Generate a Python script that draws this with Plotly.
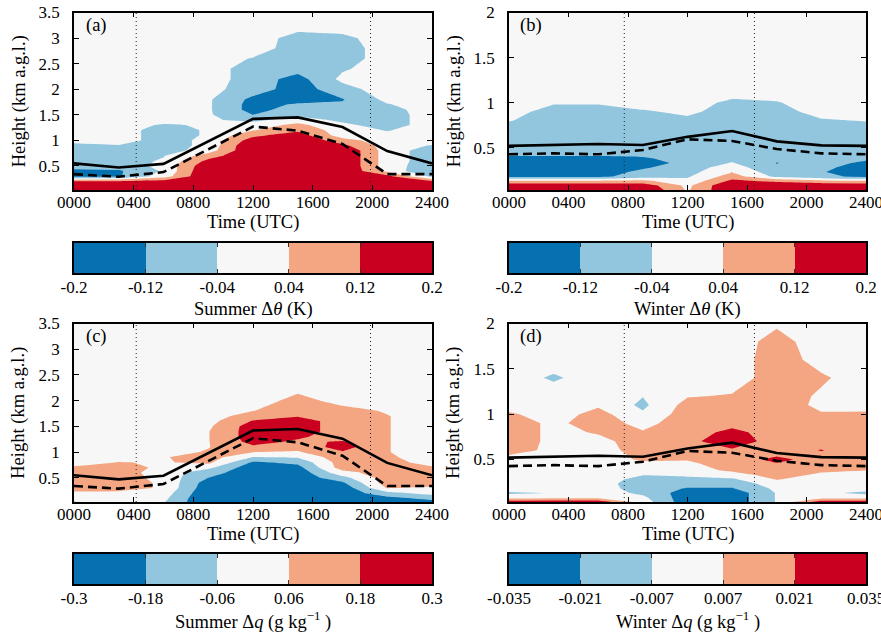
import plotly.graph_objects as go

W, H = 881, 637

# ---------------- data ----------------
TIMES = [0, 3, 6, 9, 12, 15, 18, 21, 24]          # hours UTC
HEIGHTS_SUMMER = [0.03, 0.1, 0.2, 0.3, 0.4, 0.5, 0.6, 0.7, 0.8, 0.9, 1.0, 1.1, 1.2, 1.3,
                  1.4, 1.5, 1.6, 1.7, 1.8, 2.0, 2.2, 2.4, 2.6, 2.8, 3.0, 3.2, 3.5]
HEIGHTS_WINTER = [0.03, 0.08, 0.13, 0.18, 0.23, 0.28, 0.33, 0.38, 0.45, 0.5, 0.6, 0.7,
                  0.8, 0.9, 1.0, 1.1, 1.2, 1.4, 1.6, 1.8, 2.0]

# (a) Summer delta theta (K), rows = heights, cols = times
DTHETA_SUMMER = [
    [0.20, 0.20, 0.20, 0.20, 0.20, 0.20, 0.20, 0.20, 0.20],
    [0.17, 0.17, 0.18, 0.20, 0.20, 0.20, 0.20, 0.20, 0.18],
    [0.125, 0.125, 0.15, 0.20, 0.20, 0.20, 0.20, 0.18, 0.13],
    [-0.15, -0.13, 0.0, 0.20, 0.20, 0.20, 0.20, 0.14, -0.06],
    [-0.14, -0.13, -0.03, 0.20, 0.20, 0.20, 0.20, 0.02, -0.125],
    [-0.08, -0.08, -0.02, 0.18, 0.20, 0.20, 0.20, 0.0, -0.09],
    [-0.08, -0.08, -0.03, 0.14, 0.20, 0.20, 0.20, 0.0, -0.08],
    [-0.08, -0.08, -0.045, 0.08, 0.20, 0.20, 0.20, 0.0, -0.08],
    [-0.08, -0.08, -0.08, 0.0, 0.20, 0.20, 0.20, 0.0, -0.08],
    [-0.07, -0.045, -0.08, -0.017, 0.20, 0.20, 0.14, 0.0, -0.045],
    [0.0, 0.0, -0.08, -0.017, 0.16, 0.20, 0.07, 0.0, 0.0],
    [0.0, 0.0, -0.08, -0.03, 0.10, 0.16, 0.0, -0.02, 0.0],
    [0.0, 0.0, -0.08, -0.03, 0.035, 0.10, 0.0, -0.045, 0.0],
    [0.0, 0.0, -0.05, -0.03, 0.0, 0.06, -0.02, -0.08, 0.0],
    [0.0, 0.0, 0.0, -0.03, -0.06, 0.0, -0.06, -0.08, 0.0],
    [0.0, 0.0, 0.0, -0.03, -0.12, -0.06, -0.08, -0.08, 0.0],
    [0.0, 0.0, 0.0, -0.03, -0.15, -0.08, -0.09, -0.07, 0.0],
    [0.0, 0.0, 0.0, -0.03, -0.15, -0.11, -0.11, -0.045, 0.0],
    [0.0, 0.0, 0.0, -0.03, -0.14, -0.15, -0.125, -0.02, 0.0],
    [0.0, 0.0, 0.0, -0.015, -0.08, -0.16, -0.07, 0.0, 0.0],
    [0.0, 0.0, 0.0, 0.0, -0.08, -0.15, -0.02, 0.0, 0.0],
    [0.0, 0.0, 0.0, 0.0, -0.08, -0.09, -0.05, 0.0, 0.0],
    [0.0, 0.0, 0.0, 0.0, -0.045, -0.08, -0.08, 0.0, 0.0],
    [0.0, 0.0, 0.0, 0.0, 0.0, -0.08, -0.08, 0.0, 0.0],
    [0.0, 0.0, 0.0, 0.0, 0.0, -0.07, -0.06, 0.0, 0.0],
    [0.0, 0.0, 0.0, 0.0, 0.0, -0.02, -0.01, 0.0, 0.0],
    [0.0, 0.0, 0.0, 0.0, 0.0, 0.0, 0.0, 0.0, 0.0],
]

# (b) Winter delta theta (K)
DTHETA_WINTER = [
    [0.20, 0.20, 0.20, 0.20, 0.03, 0.20, 0.20, 0.20, 0.20],
    [0.18, 0.18, 0.18, 0.17, 0.02, 0.20, 0.18, 0.18, 0.18],
    [0.05, 0.05, 0.05, 0.06, -0.02, 0.14, 0.10, 0.06, 0.05],
    [-0.14, -0.14, -0.14, -0.08, -0.05, 0.08, -0.06, -0.10, -0.14],
    [-0.16, -0.16, -0.16, -0.10, -0.07, 0.035, -0.09, -0.115, -0.16],
    [-0.16, -0.16, -0.16, -0.13, -0.08, 0.0, -0.11, -0.10, -0.16],
    [-0.16, -0.16, -0.16, -0.15, -0.10, -0.035, -0.122, -0.08, -0.14],
    [-0.14, -0.14, -0.14, -0.13, -0.09, -0.07, -0.10, -0.08, -0.10],
    [-0.09, -0.09, -0.09, -0.09, -0.08, -0.08, -0.08, -0.08, -0.08],
    [-0.08, -0.08, -0.08, -0.08, -0.08, -0.08, -0.08, -0.08, -0.08],
    [-0.08, -0.08, -0.08, -0.08, -0.08, -0.08, -0.08, -0.08, -0.08],
    [-0.08, -0.08, -0.08, -0.08, -0.08, -0.08, -0.08, -0.08, -0.08],
    [-0.035, -0.08, -0.08, -0.08, -0.06, -0.08, -0.08, -0.05, -0.035],
    [0.0, -0.08, -0.08, -0.05, -0.02, -0.08, -0.08, 0.0, 0.0],
    [0.0, -0.03, -0.03, 0.0, 0.0, -0.06, -0.045, 0.0, 0.0],
    [0.0, 0.0, 0.0, 0.0, 0.0, -0.01, -0.01, 0.0, 0.0],
    [0.0, 0.0, 0.0, 0.0, 0.0, 0.0, 0.0, 0.0, 0.0],
    [0.0, 0.0, 0.0, 0.0, 0.0, 0.0, 0.0, 0.0, 0.0],
    [0.0, 0.0, 0.0, 0.0, 0.0, 0.0, 0.0, 0.0, 0.0],
    [0.0, 0.0, 0.0, 0.0, 0.0, 0.0, 0.0, 0.0, 0.0],
    [0.0, 0.0, 0.0, 0.0, 0.0, 0.0, 0.0, 0.0, 0.0],
]

# (c) Summer delta q (g/kg)
DQ_SUMMER = [
    [-0.07, 0.0, -0.05, -0.30, -0.26, -0.26, -0.26, -0.24, -0.22],
    [0.0, 0.0, -0.03, -0.30, -0.26, -0.26, -0.26, -0.22, -0.15],
    [0.03, 0.02, 0.0, -0.28, -0.26, -0.26, -0.26, -0.10, -0.02],
    [0.12, 0.12, 0.04, -0.26, -0.26, -0.26, -0.26, 0.065, 0.03],
    [0.12, 0.12, 0.04, -0.24, -0.26, -0.26, -0.20, 0.12, 0.12],
    [0.12, 0.12, 0.02, -0.18, -0.26, -0.26, -0.10, 0.12, 0.12],
    [0.12, 0.12, 0.0, -0.13, -0.26, -0.26, 0.02, 0.12, 0.12],
    [0.08, 0.12, 0.03, -0.03, -0.26, -0.22, 0.12, 0.12, 0.08],
    [0.0, 0.065, 0.05, 0.09, -0.20, -0.15, 0.12, 0.12, 0.0],
    [0.0, 0.0, 0.05, 0.12, -0.065, -0.05, 0.14, 0.08, 0.0],
    [0.0, 0.0, 0.02, 0.07, 0.062, 0.05, 0.17, 0.065, 0.0],
    [0.0, 0.0, 0.0, 0.055, 0.16, 0.10, 0.23, 0.065, 0.0],
    [0.0, 0.0, 0.0, 0.055, 0.22, 0.16, 0.19, 0.065, 0.0],
    [0.0, 0.0, 0.0, 0.055, 0.24, 0.20, 0.12, 0.065, 0.0],
    [0.0, 0.0, 0.0, 0.055, 0.24, 0.24, 0.12, 0.065, 0.0],
    [0.0, 0.0, 0.0, 0.04, 0.24, 0.24, 0.12, 0.065, 0.0],
    [0.0, 0.0, 0.0, 0.02, 0.19, 0.24, 0.12, 0.065, 0.0],
    [0.0, 0.0, 0.0, 0.0, 0.12, 0.17, 0.12, 0.065, 0.0],
    [0.0, 0.0, 0.0, 0.0, 0.058, 0.12, 0.10, 0.05, 0.0],
    [0.0, 0.0, 0.0, 0.0, 0.0, 0.10, 0.02, 0.0, 0.0],
    [0.0, 0.0, 0.0, 0.0, 0.0, 0.04, 0.0, 0.0, 0.0],
    [0.0, 0.0, 0.0, 0.0, 0.0, 0.0, 0.0, 0.0, 0.0],
    [0.0, 0.0, 0.0, 0.0, 0.0, 0.0, 0.0, 0.0, 0.0],
    [0.0, 0.0, 0.0, 0.0, 0.0, 0.0, 0.0, 0.0, 0.0],
    [0.0, 0.0, 0.0, 0.0, 0.0, 0.0, 0.0, 0.0, 0.0],
    [0.0, 0.0, 0.0, 0.0, 0.0, 0.0, 0.0, 0.0, 0.0],
    [0.0, 0.0, 0.0, 0.0, 0.0, 0.0, 0.0, 0.0, 0.0],
]

# (d) Winter delta q (g/kg)
DQ_WINTER = [
    [0.03, 0.03, 0.03, 0.0, -0.03, -0.03, -0.006, 0.03, 0.03],
    [0.0, 0.002, 0.003, -0.004, -0.03, -0.03, -0.006, 0.0, 0.0],
    [-0.009, -0.0065, 0.0, -0.01, -0.028, -0.03, -0.006, -0.004, -0.01],
    [0.0, 0.0, 0.0, -0.014, -0.022, -0.022, -0.004, 0.0, 0.0],
    [0.0, 0.0, 0.0, -0.016, -0.016, -0.016, 0.0, 0.0, 0.0],
    [0.0, 0.0, 0.0, -0.012, -0.01, -0.009, 0.008, 0.0, 0.0],
    [0.0, 0.0, 0.0, -0.0065, -0.005, 0.0, 0.014, 0.004, 0.0],
    [0.0, 0.0, 0.0, -0.002, 0.0, 0.01, 0.016, 0.01, 0.0075],
    [0.0, 0.0, 0.0, 0.004, 0.004, 0.014, 0.02, 0.014, 0.012],
    [0.002, 0.0, 0.0, 0.009, 0.008, 0.015, 0.024, 0.016, 0.014],
    [0.012, 0.004, 0.0, 0.014, 0.014, 0.019, 0.015, 0.0215, 0.014],
    [0.014, 0.004, 0.004, 0.012, 0.017, 0.03, 0.014, 0.016, 0.014],
    [0.014, 0.004, 0.008, 0.008, 0.014, 0.025, 0.014, 0.014, 0.014],
    [0.014, 0.004, 0.013, 0.003, 0.014, 0.016, 0.014, 0.014, 0.014],
    [0.009, 0.0, 0.012, -0.005, 0.014, 0.014, 0.014, 0.008, 0.01],
    [0.0, 0.0, 0.005, -0.01, 0.012, 0.014, 0.014, 0.004, 0.0],
    [0.0, 0.0, 0.0, -0.0065, 0.006, 0.008, 0.014, 0.005, 0.0],
    [0.0, -0.009, 0.0, 0.0, 0.0, 0.0, 0.014, 0.009, 0.0],
    [0.0, 0.0, 0.0, 0.0, 0.0, 0.0, 0.014, 0.002, 0.0],
    [0.0, 0.0, 0.0, 0.0, 0.0, 0.0, 0.012, 0.0, 0.0],
    [0.0, 0.0, 0.0, 0.0, 0.0, 0.0, 0.005, 0.0, 0.0],
]

# boundary-layer heights (km)
BL_SUMMER = [0.55, 0.47, 0.54, 0.98, 1.42, 1.45, 1.26, 0.79, 0.55]
BL_SUMMER_DASHED = [0.34, 0.29, 0.38, 0.82, 1.27, 1.19, 0.93, 0.34, 0.34]
BL_WINTER = [0.52, 0.53, 0.54, 0.53, 0.62, 0.685, 0.57, 0.525, 0.52]
BL_WINTER_DASHED = [0.426, 0.437, 0.426, 0.474, 0.593, 0.574, 0.485, 0.437, 0.426]

# sunrise / sunset (hours)
SUN_SUMMER = [4.17, 19.88]
SUN_WINTER = [7.75, 16.5]

LEVELS_THETA = [-0.12, -0.04, 0.04, 0.12]
LEVELS_Q_SUMMER = [-0.18, -0.06, 0.06, 0.18]
LEVELS_Q_WINTER = [-0.021, -0.007, 0.007, 0.021]

CB_TICKS_THETA = [-0.2, -0.12, -0.04, 0.04, 0.12, 0.2]
CB_LABELS_THETA = ["-0.2", "-0.12", "-0.04", "0.04", "0.12", "0.2"]
CB_TICKS_Q_SUMMER = [-0.3, -0.18, -0.06, 0.06, 0.18, 0.3]
CB_LABELS_Q_SUMMER = ["-0.3", "-0.18", "-0.06", "0.06", "0.18", "0.3"]
CB_TICKS_Q_WINTER = [-0.035, -0.021, -0.007, 0.007, 0.021, 0.035]
CB_LABELS_Q_WINTER = ["-0.035", "-0.021", "-0.007", "0.007", "0.021", "0.035"]

XTICKS = [0, 4, 8, 12, 16, 20, 24]
XTICK_LABELS = ["0000", "0400", "0800", "1200", "1600", "2000", "2400"]
YTICKS_SUMMER = [0.5, 1, 1.5, 2, 2.5, 3, 3.5]
YTICK_LABELS_SUMMER = ["0.5", "1", "1.5", "2", "2.5", "3", "3.5"]
YTICKS_WINTER = [0.5, 1, 1.5, 2]
YTICK_LABELS_WINTER = ["0.5", "1", "1.5", "2"]

COLORS = ["#0571b0", "#92c5de", "#f7f7f7", "#f4a582", "#ca0020"]

# ---------------- styling ----------------
FONT = "Liberation Serif, Times New Roman, serif"
TICK_SIZE = 17
LABEL_SIZE = 18.5


def stepped(colors, edges):
    cs = []
    for i, c in enumerate(colors):
        cs.append([edges[i], c])
        cs.append([edges[i + 1], c])
    return cs


CS_FILL = stepped(COLORS, [0, 0.125, 0.375, 0.625, 0.875, 1.0])
CS_BAR = stepped(COLORS, [0, 0.2, 0.4, 0.6, 0.8, 1.0])


def px_x(x0, x1):
    return [x0 / W, x1 / W]


def px_y(y0, y1):
    return [1 - y1 / H, 1 - y0 / H]


PANELS = [
    dict(tag="(a)", z=DTHETA_SUMMER, h=HEIGHTS_SUMMER, lev=LEVELS_THETA,
         yr=[0.03, 3.5], yt=YTICKS_SUMMER, ytl=YTICK_LABELS_SUMMER,
         bl=BL_SUMMER, bld=BL_SUMMER_DASHED, sun=SUN_SUMMER,
         xd=(74, 432), yd=(12.5, 190), cbyd=(243, 273),
         cbt=CB_TICKS_THETA, cbl=CB_LABELS_THETA,
         cbtitle="Summer Δ<i>θ</i> (K)", xlab_y=223, cbtitle_y=309),
    dict(tag="(b)", z=DTHETA_WINTER, h=HEIGHTS_WINTER, lev=LEVELS_THETA,
         yr=[0.03, 2.0], yt=YTICKS_WINTER, ytl=YTICK_LABELS_WINTER,
         bl=BL_WINTER, bld=BL_WINTER_DASHED, sun=SUN_WINTER,
         xd=(509, 866), yd=(12.5, 190), cbyd=(243, 273),
         cbt=CB_TICKS_THETA, cbl=CB_LABELS_THETA,
         cbtitle="Winter Δ<i>θ</i> (K)", xlab_y=223, cbtitle_y=309),
    dict(tag="(c)", z=DQ_SUMMER, h=HEIGHTS_SUMMER, lev=LEVELS_Q_SUMMER,
         yr=[0.03, 3.5], yt=YTICKS_SUMMER, ytl=YTICK_LABELS_SUMMER,
         bl=BL_SUMMER, bld=BL_SUMMER_DASHED, sun=SUN_SUMMER,
         xd=(74, 432), yd=(323.5, 502), cbyd=(554, 584),
         cbt=CB_TICKS_Q_SUMMER, cbl=CB_LABELS_Q_SUMMER,
         cbtitle="Summer Δ<i>q</i> (g kg<sup>−1</sup> )", xlab_y=534, cbtitle_y=620),
    dict(tag="(d)", z=DQ_WINTER, h=HEIGHTS_WINTER, lev=LEVELS_Q_WINTER,
         yr=[0.03, 2.0], yt=YTICKS_WINTER, ytl=YTICK_LABELS_WINTER,
         bl=BL_WINTER, bld=BL_WINTER_DASHED, sun=SUN_WINTER,
         xd=(509, 866), yd=(323.5, 502), cbyd=(554, 584),
         cbt=CB_TICKS_Q_WINTER, cbl=CB_LABELS_Q_WINTER,
         cbtitle="Winter Δ<i>q</i> (g kg<sup>−1</sup> )", xlab_y=534, cbtitle_y=620),
]

fig = go.Figure()
layout = dict(
    width=W, height=H, margin=dict(l=0, r=0, t=0, b=0, autoexpand=False),
    paper_bgcolor="white", plot_bgcolor="white", showlegend=False,
    font=dict(family=FONT, size=TICK_SIZE, color="black"),
)
annotations = []

for i, p in enumerate(PANELS):
    n = i + 1
    xa = "x" if n == 1 else f"x{n}"
    ya = "y" if n == 1 else f"y{n}"
    lev = p["lev"]
    size = lev[1] - lev[0]
    fig.add_trace(go.Contour(
        x=TIMES, y=p["h"], z=p["z"], xaxis=xa, yaxis=ya,
        autocontour=False,
        contours=dict(start=lev[0], end=lev[-1], size=size, coloring="fill", showlines=False),
        colorscale=CS_FILL, showscale=False, line=dict(width=0, smoothing=0),
        hoverinfo="skip",
    ))
    for s in p["sun"]:
        fig.add_trace(go.Scatter(x=[s, s], y=p["yr"], xaxis=xa, yaxis=ya, mode="lines",
                                 line=dict(color="#222222", width=1, dash="1px,3px"),
                                 hoverinfo="skip"))
    fig.add_trace(go.Scatter(x=TIMES, y=p["bl"], xaxis=xa, yaxis=ya, mode="lines",
                             line=dict(color="black", width=2.6), hoverinfo="skip"))
    fig.add_trace(go.Scatter(x=TIMES, y=p["bld"], xaxis=xa, yaxis=ya, mode="lines",
                             line=dict(color="black", width=2.6, dash="9px,5px"),
                             hoverinfo="skip"))

    common = dict(showline=True, linecolor="black", linewidth=1.5, mirror="ticks",
                  ticks="inside", ticklen=5, tickcolor="black", showgrid=False,
                  zeroline=False, ticklabeloverflow="allow",
                  tickfont=dict(size=TICK_SIZE, family=FONT))
    layout["xaxis" if n == 1 else f"xaxis{n}"] = dict(
        domain=px_x(*p["xd"]), anchor=ya, range=[0, 24],
        tickvals=XTICKS, ticktext=XTICK_LABELS, ticklabelstandoff=-4, **common)
    layout["yaxis" if n == 1 else f"yaxis{n}"] = dict(
        domain=px_y(*p["yd"]), anchor=xa, range=p["yr"],
        tickvals=p["yt"], ticktext=p["ytl"], ticklabelstandoff=9, **common)

    # colorbar as its own axis pair
    m = n + 4
    cxa, cya = f"x{m}", f"y{m}"
    t = p["cbt"]
    centers = [(t[k] + t[k + 1]) / 2 for k in range(len(t) - 1)]
    fig.add_trace(go.Heatmap(x=centers, y=[0.5], z=[centers], xaxis=cxa, yaxis=cya,
                             colorscale=CS_BAR, zmin=t[0], zmax=t[-1], showscale=False,
                             hoverinfo="skip"))
    layout[f"xaxis{m}"] = dict(
        domain=px_x(*p["xd"]), anchor=cya, range=[t[0], t[-1]],
        tickvals=t, ticktext=p["cbl"], ticks="inside", ticklen=4, tickcolor="#333333",
        showline=True, linecolor="black", linewidth=2, mirror="ticks",
        showgrid=False, zeroline=False, ticklabelstandoff=-2, ticklabeloverflow="allow",
        tickfont=dict(size=TICK_SIZE, family=FONT))
    layout[f"yaxis{m}"] = dict(
        domain=px_y(*p["cbyd"]), anchor=cxa, range=[0, 1], showline=True,
        linecolor="black", linewidth=2, mirror=True, showticklabels=False,
        ticks="", showgrid=False, zeroline=False)

    xc = (p["xd"][0] + p["xd"][1]) / 2
    yc = (p["yd"][0] + p["yd"][1]) / 2
    annotations.append(dict(text="Time (UTC)", x=xc / W, y=1 - p["xlab_y"] / H,
                            xref="paper", yref="paper", showarrow=False,
                            xanchor="center", yanchor="middle",
                            font=dict(size=LABEL_SIZE, family=FONT)))
    annotations.append(dict(text=p["cbtitle"], x=xc / W, y=1 - p["cbtitle_y"] / H,
                            xref="paper", yref="paper", showarrow=False,
                            xanchor="center", yanchor="middle",
                            font=dict(size=LABEL_SIZE, family=FONT)))
    annotations.append(dict(text="Height (km a.g.l.)", x=(p["xd"][0] - 55) / W,
                            y=1 - yc / H, xref="paper", yref="paper", showarrow=False,
                            textangle=-90, xanchor="center", yanchor="middle",
                            font=dict(size=LABEL_SIZE, family=FONT)))
    annotations.append(dict(text=p["tag"], x=(p["xd"][0] + 22) / W,
                            y=1 - (p["yd"][0] + 13) / H, xref="paper", yref="paper",
                            showarrow=False, xanchor="center", yanchor="middle",
                            font=dict(size=LABEL_SIZE, family=FONT)))

layout["annotations"] = annotations
fig.update_layout(**layout)
fig.write_html("out.html")
